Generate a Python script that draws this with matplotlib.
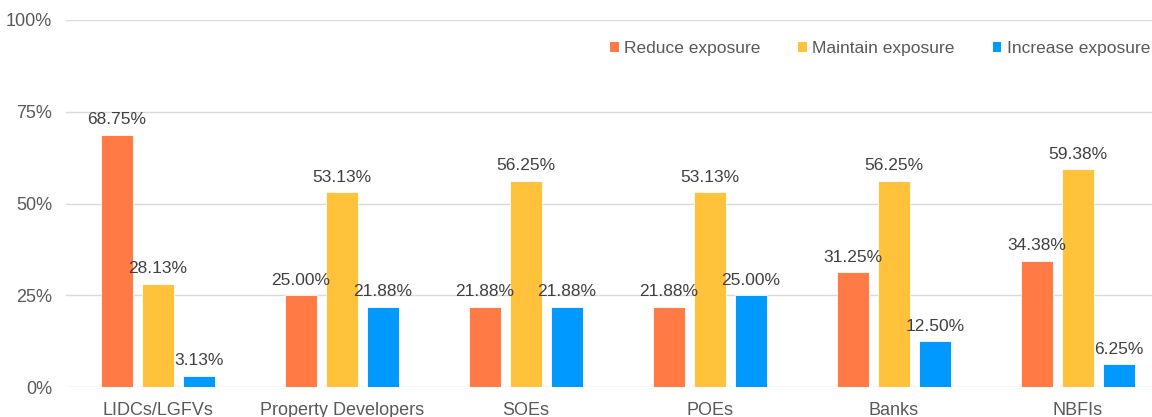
import matplotlib.pyplot as plt
import numpy as np
from matplotlib.patches import Patch

plt.rcParams["font.family"] = ["Liberation Sans", "DejaVu Sans"]

categories = ["LIDCs/LGFVs", "Property Developers", "SOEs", "POEs", "Banks", "NBFIs"]
reduce_exp = [68.75, 25.00, 21.88, 21.88, 31.25, 34.38]
maintain_exp = [28.13, 53.13, 56.25, 53.13, 56.25, 59.38]
increase_exp = [3.13, 21.88, 21.88, 25.00, 12.50, 6.25]

series = [
    ("Reduce exposure", reduce_exp, "#FF7A45"),
    ("Maintain exposure", maintain_exp, "#FFC23A"),
    ("Increase exposure", increase_exp, "#0099FF"),
]

W, H = 1152, 417
fig = plt.figure(figsize=(W / 100, H / 100), dpi=100)
# axes spans a little past the right edge, as in the source crop
ax = fig.add_axes([66 / W, 1 - 387 / H, 1104 / W, 367 / H])

x = np.arange(len(categories))
width = 0.174
step = 0.223
text_col = "#404040"

for i, (name, vals, col) in enumerate(series):
    pos = x + (i - 1) * step
    ax.bar(pos, vals, width=width, color=col, edgecolor="white", linewidth=0.6, zorder=3)
    for px, v in zip(pos, vals):
        ax.text(px, v + 2.0, f"{v:.2f}%", ha="center", va="bottom",
                fontsize=12.5, color=text_col, zorder=4)

ax.set_xlim(-0.5, len(categories) - 0.5)
ax.set_ylim(0, 100)
ax.set_yticks([0, 25, 50, 75, 100])
ax.set_yticklabels(["0%", "25%", "50%", "75%", "100%"])
ax.set_xticks(x)
ax.set_xticklabels(categories)
ax.grid(axis="y", color="#D9D9D9", linewidth=1, zorder=0)
ax.set_axisbelow(True)
for s in ax.spines.values():
    s.set_visible(False)
ax.tick_params(axis="both", length=0, labelsize=13, labelcolor="#595959")
ax.tick_params(axis="y", pad=10)
ax.tick_params(axis="x", pad=11)

handles = [Patch(facecolor=c, edgecolor="none", label=n) for n, _, c in series]
fig.legend(handles=handles, loc="center right", bbox_to_anchor=(1150 / W, 1 - 49 / H),
           ncol=3, frameon=False, fontsize=12.5, labelcolor="#595959",
           handlelength=0.5, handleheight=0.5, handletextpad=0.3,
           columnspacing=2.2, borderaxespad=0, borderpad=0)

fig.savefig("out.png", dpi=100)
